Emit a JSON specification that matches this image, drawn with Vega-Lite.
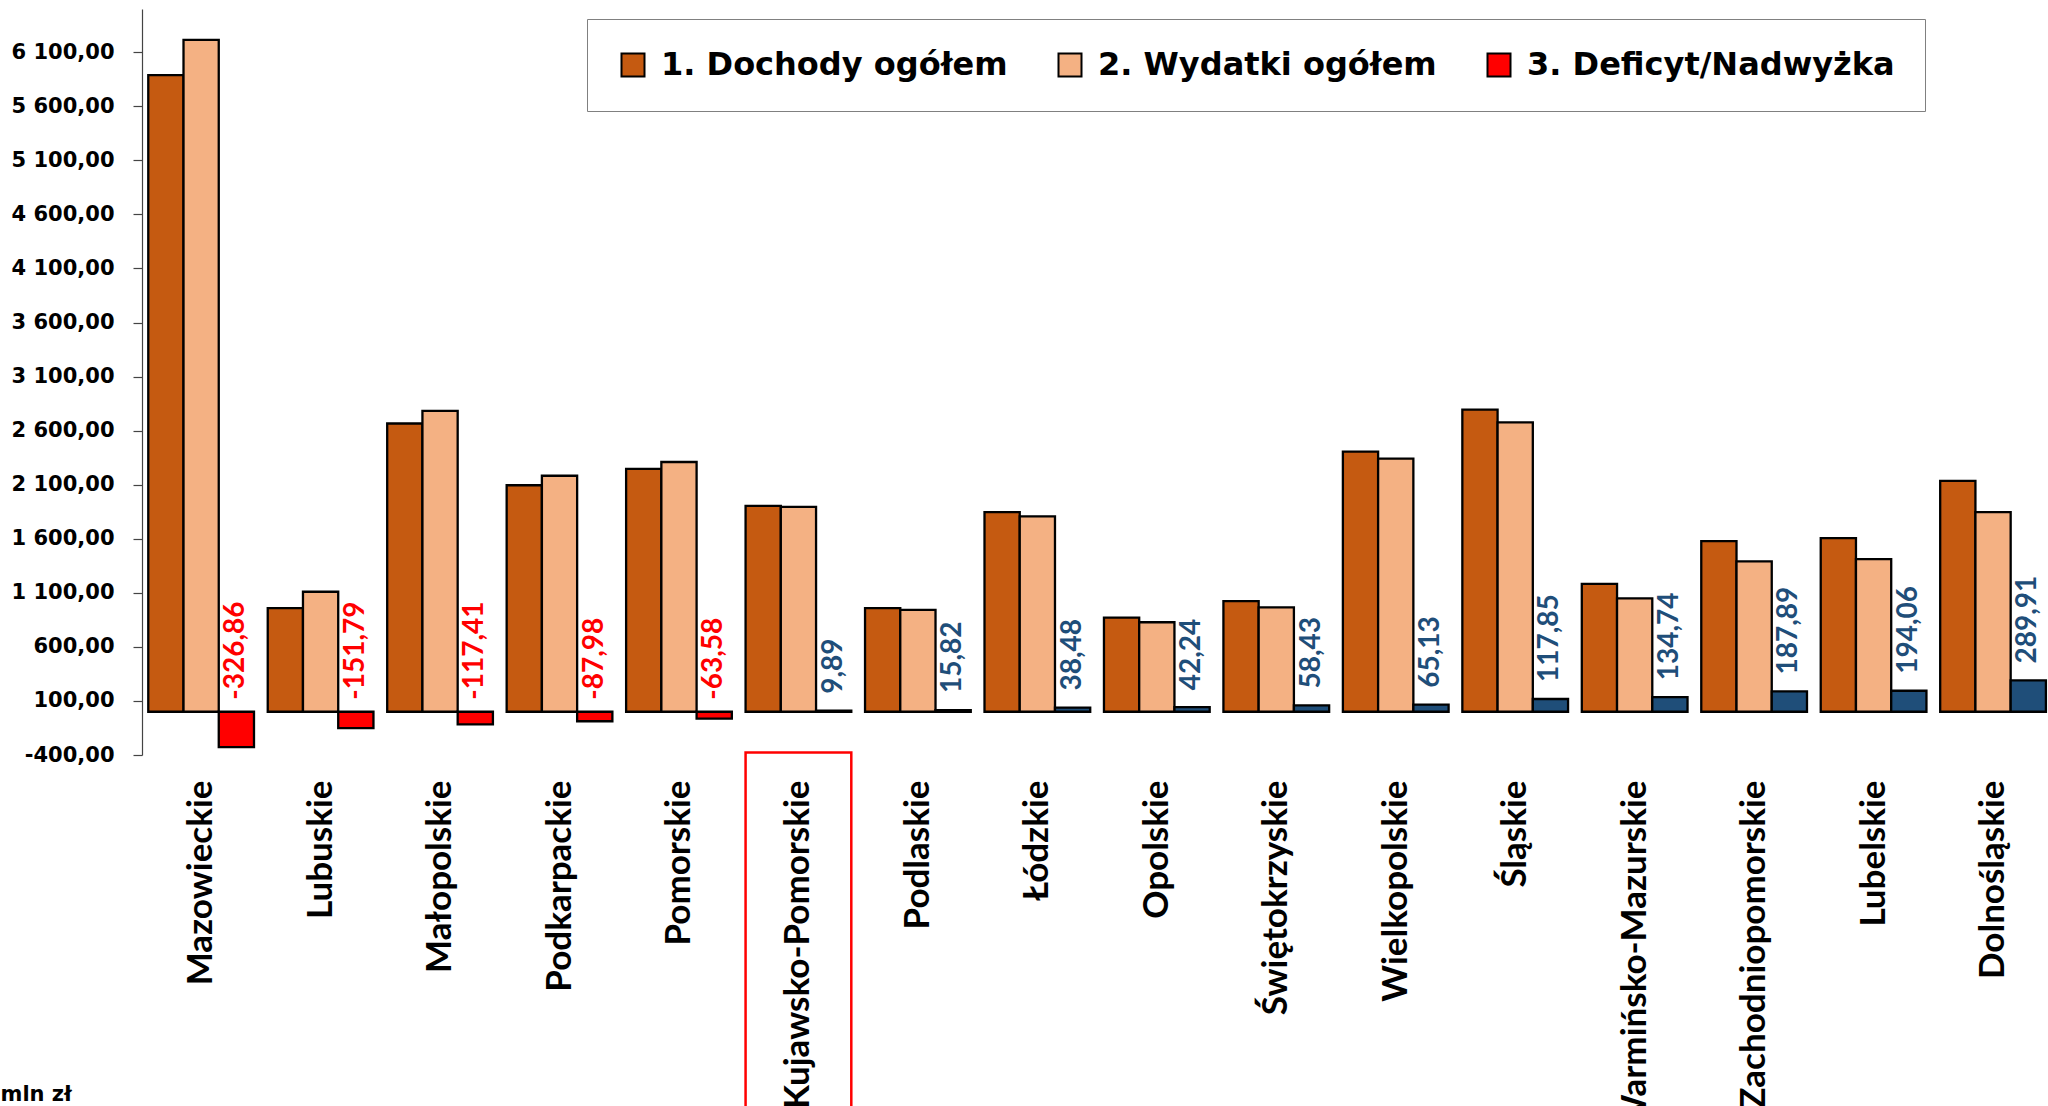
{
  "$schema": "https://vega.github.io/schema/vega-lite/v6.json",
  "autosize": {"type": "none"},
  "width": 1906,
  "height": 746,
  "padding": {"left": 142, "top": 9, "right": 0, "bottom": 351},
  "background": "white",
  "config": {
    "view": {"stroke": null},
    "locale": {"number": {"decimal": ",", "thousands": " ", "grouping": [3], "currency": ["", ""], "minus": "-"}}
  },
  "datasets": {
    "bars": [
      {"region": "Mazowieckie", "series": "1. Dochody ogółem", "value": 5888},
      {"region": "Mazowieckie", "series": "2. Wydatki ogółem", "value": 6215},
      {"region": "Mazowieckie", "series": "3. Deficyt/Nadwyżka", "value": -326.86},
      {"region": "Lubuskie", "series": "1. Dochody ogółem", "value": 958},
      {"region": "Lubuskie", "series": "2. Wydatki ogółem", "value": 1110},
      {"region": "Lubuskie", "series": "3. Deficyt/Nadwyżka", "value": -151.79},
      {"region": "Małopolskie", "series": "1. Dochody ogółem", "value": 2666},
      {"region": "Małopolskie", "series": "2. Wydatki ogółem", "value": 2783},
      {"region": "Małopolskie", "series": "3. Deficyt/Nadwyżka", "value": -117.41},
      {"region": "Podkarpackie", "series": "1. Dochody ogółem", "value": 2095},
      {"region": "Podkarpackie", "series": "2. Wydatki ogółem", "value": 2183},
      {"region": "Podkarpackie", "series": "3. Deficyt/Nadwyżka", "value": -87.98},
      {"region": "Pomorskie", "series": "1. Dochody ogółem", "value": 2246},
      {"region": "Pomorskie", "series": "2. Wydatki ogółem", "value": 2310},
      {"region": "Pomorskie", "series": "3. Deficyt/Nadwyżka", "value": -63.58},
      {"region": "Kujawsko-Pomorskie", "series": "1. Dochody ogółem", "value": 1905},
      {"region": "Kujawsko-Pomorskie", "series": "2. Wydatki ogółem", "value": 1895},
      {"region": "Kujawsko-Pomorskie", "series": "3. Deficyt/Nadwyżka", "value": 9.89},
      {"region": "Podlaskie", "series": "1. Dochody ogółem", "value": 958},
      {"region": "Podlaskie", "series": "2. Wydatki ogółem", "value": 942},
      {"region": "Podlaskie", "series": "3. Deficyt/Nadwyżka", "value": 15.82},
      {"region": "Łódzkie", "series": "1. Dochody ogółem", "value": 1846},
      {"region": "Łódzkie", "series": "2. Wydatki ogółem", "value": 1808},
      {"region": "Łódzkie", "series": "3. Deficyt/Nadwyżka", "value": 38.48},
      {"region": "Opolskie", "series": "1. Dochody ogółem", "value": 870},
      {"region": "Opolskie", "series": "2. Wydatki ogółem", "value": 828},
      {"region": "Opolskie", "series": "3. Deficyt/Nadwyżka", "value": 42.24},
      {"region": "Świętokrzyskie", "series": "1. Dochody ogółem", "value": 1024},
      {"region": "Świętokrzyskie", "series": "2. Wydatki ogółem", "value": 966},
      {"region": "Świętokrzyskie", "series": "3. Deficyt/Nadwyżka", "value": 58.43},
      {"region": "Wielkopolskie", "series": "1. Dochody ogółem", "value": 2406},
      {"region": "Wielkopolskie", "series": "2. Wydatki ogółem", "value": 2341},
      {"region": "Wielkopolskie", "series": "3. Deficyt/Nadwyżka", "value": 65.13},
      {"region": "Śląskie", "series": "1. Dochody ogółem", "value": 2794},
      {"region": "Śląskie", "series": "2. Wydatki ogółem", "value": 2676},
      {"region": "Śląskie", "series": "3. Deficyt/Nadwyżka", "value": 117.85},
      {"region": "Warmińsko-Mazurskie", "series": "1. Dochody ogółem", "value": 1183},
      {"region": "Warmińsko-Mazurskie", "series": "2. Wydatki ogółem", "value": 1048},
      {"region": "Warmińsko-Mazurskie", "series": "3. Deficyt/Nadwyżka", "value": 134.74},
      {"region": "Zachodniopomorskie", "series": "1. Dochody ogółem", "value": 1578},
      {"region": "Zachodniopomorskie", "series": "2. Wydatki ogółem", "value": 1390},
      {"region": "Zachodniopomorskie", "series": "3. Deficyt/Nadwyżka", "value": 187.89},
      {"region": "Lubelskie", "series": "1. Dochody ogółem", "value": 1606},
      {"region": "Lubelskie", "series": "2. Wydatki ogółem", "value": 1412},
      {"region": "Lubelskie", "series": "3. Deficyt/Nadwyżka", "value": 194.06},
      {"region": "Dolnośląskie", "series": "1. Dochody ogółem", "value": 2136},
      {"region": "Dolnośląskie", "series": "2. Wydatki ogółem", "value": 1846},
      {"region": "Dolnośląskie", "series": "3. Deficyt/Nadwyżka", "value": 289.91}
    ],
    "highlight": [{"region": "Kujawsko-Pomorskie"}]
  },
  "encoding": {
    "x": {
      "field": "region", "type": "nominal", "sort": null, "title": null,
      "scale": {
        "domain": ["Mazowieckie", "Lubuskie", "Małopolskie", "Podkarpackie", "Pomorskie", "Kujawsko-Pomorskie", "Podlaskie", "Łódzkie", "Opolskie", "Świętokrzyskie", "Wielkopolskie", "Śląskie", "Warmińsko-Mazurskie", "Zachodniopomorskie", "Lubelskie", "Dolnośląskie"],
        "paddingInner": 0.115, "paddingOuter": 0.035, "align": 0.75
      },
      "axis": {
        "domain": false, "ticks": false, "labelAngle": -90, "labelPadding": 25,
        "labelFont": "Lato", "labelFontWeight": "bold", "labelFontSize": 35, "labelColor": "#000000",
        "labelAlign": "right", "labelBaseline": "middle", "labelOverlap": false, "labelLimit": 0
      }
    }
  },
  "layer": [
    {
      "data": {"name": "bars"},
      "mark": {"type": "bar", "stroke": "#000000", "strokeWidth": 2.3},
      "encoding": {
        "xOffset": {"field": "series", "type": "nominal", "scale": {"domain": ["1. Dochody ogółem", "2. Wydatki ogółem", "3. Deficyt/Nadwyżka"], "paddingInner": 0, "paddingOuter": 0}},
        "y": {
          "field": "value", "type": "quantitative", "title": "mln zł",
          "scale": {"domain": [-400, 6500], "nice": false, "zero": false},
          "axis": {
            "values": [-400, 100, 600, 1100, 1600, 2100, 2600, 3100, 3600, 4100, 4600, 5100, 5600, 6100],
            "format": ",.2f", "grid": false,
            "domainColor": "#444444", "domainWidth": 1.2, "tickColor": "#444444", "tickWidth": 1.2, "tickSize": 9,
            "labelFont": "DejaVu Sans", "labelFontWeight": "bold", "labelFontSize": 21, "labelColor": "#000000", "labelPadding": 19,
            "titleFont": "DejaVu Sans", "titleFontWeight": "bold", "titleFontSize": 21, "titleColor": "#000000",
            "titleAngle": 0, "titleX": -142, "titleY": 1091, "titleAlign": "left", "titleBaseline": "alphabetic"
          }
        },
        "color": {
          "field": "series", "type": "nominal",
          "scale": {
            "domain": ["1. Dochody ogółem", "2. Wydatki ogółem", "3. Deficyt/Nadwyżka"],
            "range": ["#C55A11", "#F4B183", "#FF0000"]
          },
          "condition": [
            {"test": "datum.series === '3. Deficyt/Nadwyżka' && datum.value < 0", "value": "#FF0000"},
            {"test": "datum.series === '3. Deficyt/Nadwyżka' && datum.value >= 0", "value": "#1F4E79"}
          ],
          "legend": {
            "title": null, "orient": "none", "legendX": 445, "legendY": 10,
            "direction": "horizontal", "columns": 3, "columnPadding": 46,
            "symbolType": "square", "symbolSize": 529, "symbolStrokeColor": "#000000", "symbolStrokeWidth": 2, "symbolOpacity": 1,
            "labelFont": "DejaVu Sans", "labelFontWeight": "bold", "labelFontSize": 32, "labelColor": "#000000", "labelOffset": 12, "labelLimit": 0,
            "padding": 30, "strokeColor": "#808080", "fillColor": "#FFFFFF"
          }
        }
      }
    },
    {
      "data": {"name": "bars"},
      "transform": [{"filter": "datum.series === '3. Deficyt/Nadwyżka' && datum.value < 0"}],
      "mark": {"type": "text", "angle": -90, "align": "left", "baseline": "middle", "dx": 12, "font": "Lato", "fontWeight": "bold", "fontSize": 28, "color": "#FF0000"},
      "encoding": {
        "xOffset": {"field": "series", "type": "nominal", "scale": {"domain": ["1. Dochody ogółem", "2. Wydatki ogółem", "3. Deficyt/Nadwyżka"]}},
        "y": {"datum": 0, "type": "quantitative"},
        "text": {"field": "value", "type": "quantitative", "format": ".2f"}
      }
    },
    {
      "data": {"name": "bars"},
      "transform": [{"filter": "datum.series === '3. Deficyt/Nadwyżka' && datum.value >= 0"}],
      "mark": {"type": "text", "angle": -90, "align": "left", "baseline": "middle", "dx": 17, "font": "Lato", "fontWeight": "bold", "fontSize": 28, "color": "#1F4E79"},
      "encoding": {
        "xOffset": {"field": "series", "type": "nominal", "scale": {"domain": ["1. Dochody ogółem", "2. Wydatki ogółem", "3. Deficyt/Nadwyżka"]}},
        "y": {"field": "value", "type": "quantitative"},
        "text": {"field": "value", "type": "quantitative", "format": ".2f"}
      }
    },
    {
      "data": {"name": "highlight"},
      "mark": {"type": "rect", "fill": null, "fillOpacity": 0, "stroke": "#FF0000", "strokeWidth": 2.5},
      "encoding": {
        "y": {"datum": -378, "type": "quantitative"},
        "y2": {"datum": -3800}
      }
    }
  ]
}
